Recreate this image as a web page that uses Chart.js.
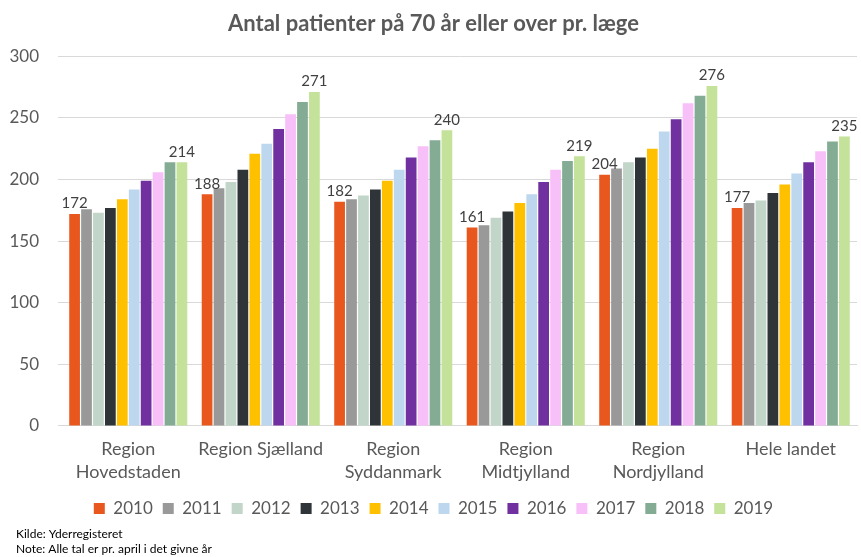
<!DOCTYPE html>
<html>
<head>
<meta charset="utf-8">
<script src="https://cdn.jsdelivr.net/npm/chart.js@4"></script>
<style>
  html, body { margin: 0; padding: 0; background: #fff; }
  #wrap { width: 861px; height: 557px; position: relative; }
</style>
</head>
<body>
<div id="wrap"><canvas id="c"></canvas></div>
<script>
const regions = [
  ['Region', 'Hovedstaden'],
  'Region Sjælland',
  ['Region', 'Syddanmark'],
  ['Region', 'Midtjylland'],
  ['Region', 'Nordjylland'],
  'Hele landet'
];
const years = ['2010', '2011', '2012', '2013', '2014', '2015', '2016', '2017', '2018', '2019'];

// one array per year, values in region order
const v2010 = [172, 188, 182, 161, 204, 177];
const v2011 = [176, 193, 184, 163, 209, 181];
const v2012 = [173, 198, 187, 169, 214, 183];
const v2013 = [177, 208, 192, 174, 218, 189];
const v2014 = [184, 221, 199, 181, 225, 196];
const v2015 = [192, 229, 208, 188, 239, 205];
const v2016 = [199, 241, 218, 198, 249, 214];
const v2017 = [206, 253, 227, 208, 262, 223];
const v2018 = [214, 263, 232, 215, 268, 231];
const v2019 = [214, 271, 240, 219, 276, 235];
const yearValues = [v2010, v2011, v2012, v2013, v2014, v2015, v2016, v2017, v2018, v2019];

const colors = ['#E8581E', '#999999', '#C1D5C9', '#2E3437', '#FFC000',
                '#BDD7EE', '#7030A0', '#F8C0F8', '#84AC94', '#C4E29A'];

const notes = ['Kilde: Yderregisteret', 'Note: Alle tal er pr. april i det givne år'];
const labelledYears = [0, 9];

const txt = '#595959';
const fam = 'Lato, "Open Sans", sans-serif';

const valueLabels = {
  id: 'valueLabels',
  afterDatasetsDraw(chart) {
    const ctx = chart.ctx;
    ctx.save();
    ctx.font = '15px ' + fam;
    ctx.fillStyle = '#404040';
    ctx.textAlign = 'center';
    ctx.textBaseline = 'bottom';
    labelledYears.forEach(i => {
      const meta = chart.getDatasetMeta(i);
      meta.data.forEach((bar, j) => {
        ctx.fillText(chart.data.datasets[i].data[j], bar.x, bar.y - 3);
      });
    });
    ctx.restore();
  }
};

const footNotes = {
  id: 'footNotes',
  afterDraw(chart) {
    const ctx = chart.ctx;
    ctx.save();
    ctx.font = '12px ' + fam;
    ctx.fillStyle = '#000';
    ctx.textAlign = 'left';
    ctx.textBaseline = 'middle';
    notes.forEach((n, k) => ctx.fillText(n, 16, 534 + k * 15));
    ctx.restore();
  }
};

// nudge legend down a little without moving the plot
const legendNudge = {
  id: 'legendNudge',
  afterLayout(chart) {
    chart.legend.top += 2;
    chart.legend.bottom += 2;
  }
};

new Chart(document.getElementById('c'), {
  type: 'bar',
  data: {
    labels: regions,
    datasets: years.map((y, i) => ({
      label: y,
      data: yearValues[i],
      backgroundColor: colors[i],
      borderWidth: 0,
      categoryPercentage: 0.9,
      barPercentage: 0.9
    }))
  },
  options: {
    responsive: true,
    maintainAspectRatio: false,
    animation: false,
    layout: { padding: { left: 10, right: 4, top: 0, bottom: 32 } },
    plugins: {
      title: {
        display: true,
        text: 'Antal patienter på 70 år eller over pr. læge',
        color: txt,
        font: { family: fam, size: 22, weight: 'bold' },
        padding: { top: 11, bottom: 19 }
      },
      legend: {
        position: 'bottom',
        labels: {
          color: txt,
          font: { family: fam, size: 17 },
          boxWidth: 11,
          boxHeight: 11,
          padding: 10
        }
      },
      tooltip: { enabled: false }
    },
    scales: {
      x: {
        grid: { display: false },
        border: { color: '#D9D9D9' },
        afterFit(scale) { scale.paddingLeft = 0; scale.paddingRight = 0; },
        ticks: {
          color: txt,
          font: { family: fam, size: 18, lineHeight: 1.28 },
          padding: 4,
          maxRotation: 0,
          minRotation: 0,
          autoSkip: false
        }
      },
      y: {
        min: 0,
        max: 300,
        afterFit(scale) { scale.width = 52; },
        ticks: { stepSize: 50, color: txt, font: { family: fam, size: 17 }, padding: 19 },
        grid: { color: '#D9D9D9', tickLength: 4 },
        border: { display: false }
      }
    }
  },
  plugins: [valueLabels, footNotes, legendNudge]
});
</script>
</body>
</html>
